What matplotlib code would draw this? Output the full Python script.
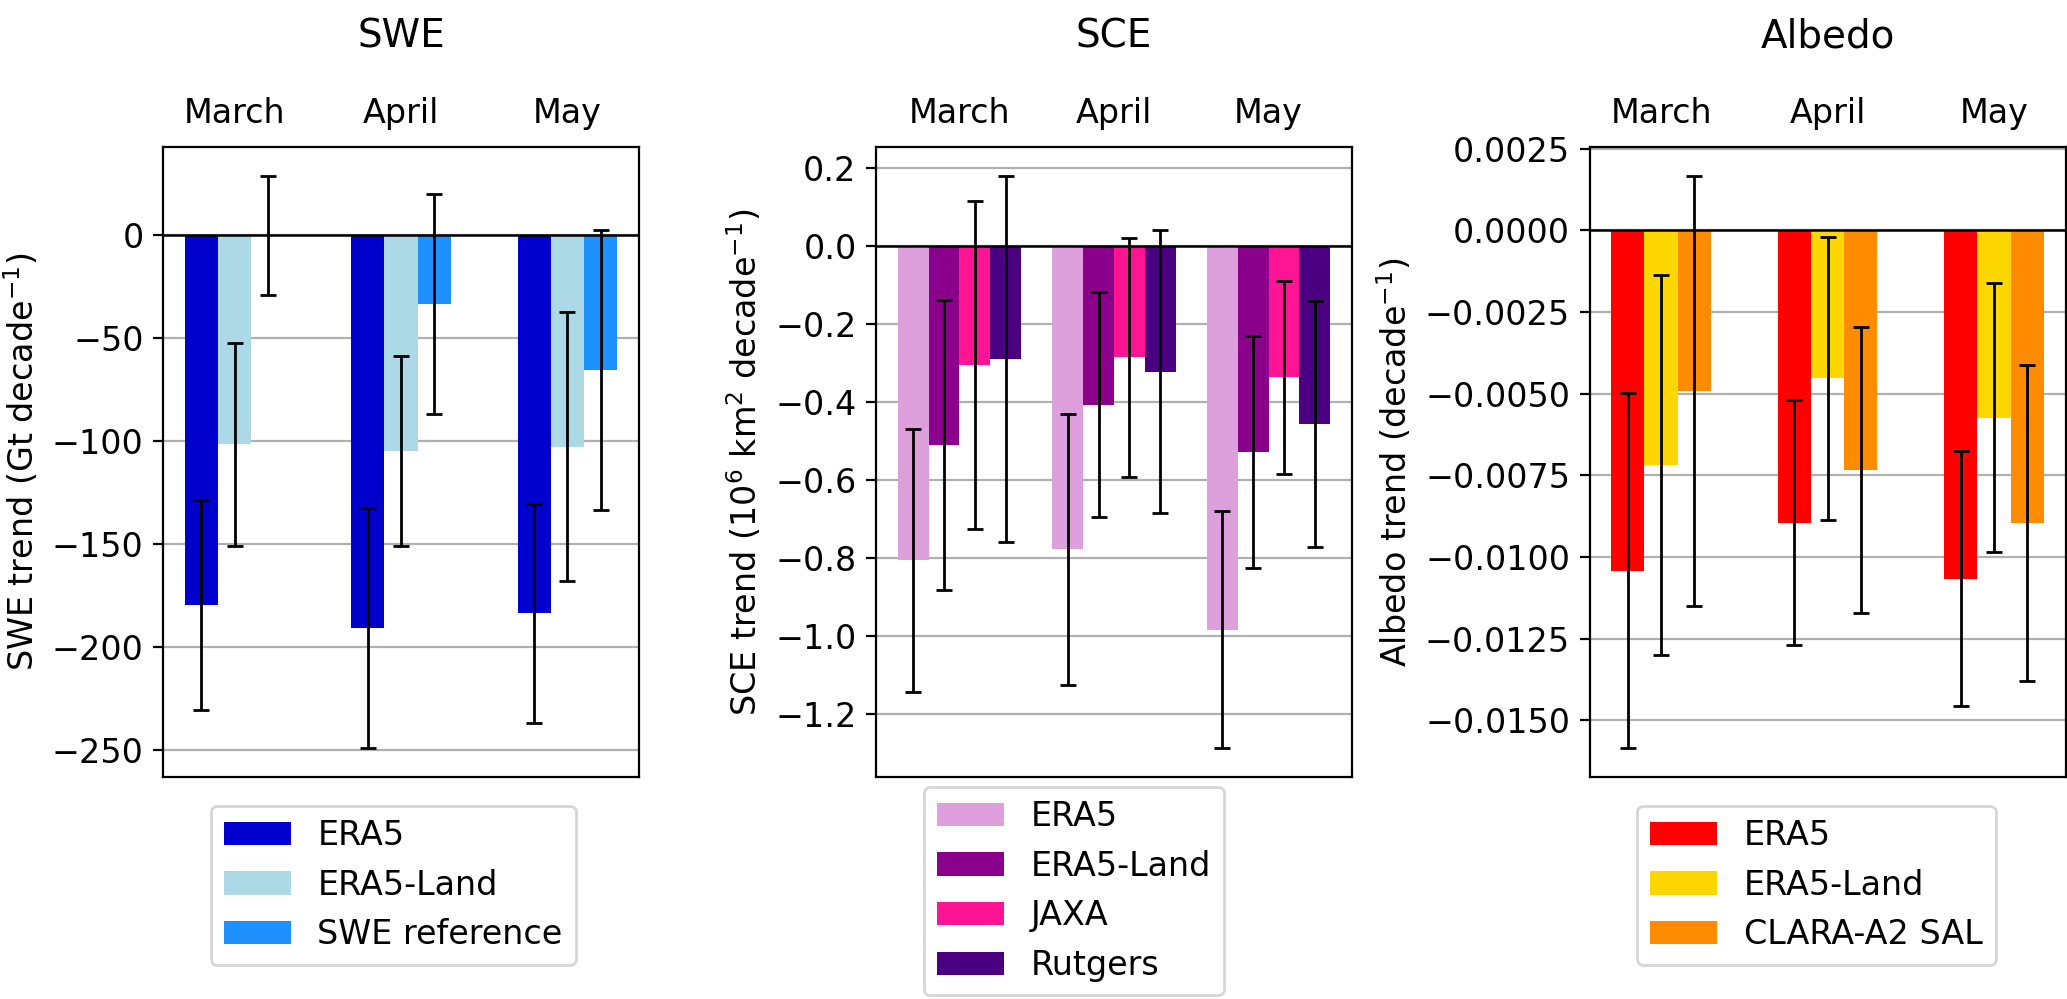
import matplotlib
matplotlib.use("Agg")
import matplotlib.pyplot as plt
import numpy as np

plt.rcParams['font.family'] = ['DejaVu Sans']
plt.rcParams['font.size'] = 12

months = ["March", "April", "May"]

# SWE (Gt decade^-1)
swe_labels = ["ERA5", "ERA5-Land", "SWE reference"]
swe_colors = ["mediumblue", "lightblue", "dodgerblue"]
swe_era5 = [-179.5, -190.8, -183.6]
swe_era5_err = [51.0, 58.3, 53.2]
swe_land = [-101.6, -104.8, -102.7]
swe_land_err = [49.5, 46.0, 65.4]
swe_ref = [0.0, -33.3, -65.4]
swe_ref_err = [29.0, 53.5, 68.0]

# SCE (10^6 km^2 decade^-1)
sce_labels = ["ERA5", "ERA5-Land", "JAXA", "Rutgers"]
sce_colors = ["plum", "darkmagenta", "deeppink", "indigo"]
sce_era5 = [-0.805, -0.777, -0.983]
sce_era5_err = [0.337, 0.347, 0.303]
sce_land = [-0.509, -0.407, -0.528]
sce_land_err = [0.371, 0.288, 0.297]
sce_jaxa = [-0.304, -0.285, -0.336]
sce_jaxa_err = [0.420, 0.306, 0.247]
sce_rutgers = [-0.289, -0.322, -0.456]
sce_rutgers_err = [0.469, 0.363, 0.316]

# Albedo (decade^-1)
alb_labels = ["ERA5", "ERA5-Land", "CLARA-A2 SAL"]
alb_colors = ["red", "gold", "darkorange"]
alb_era5 = [-0.01042, -0.00896, -0.01067]
alb_era5_err = [0.00543, 0.00375, 0.00390]
alb_land = [-0.00719, -0.00453, -0.00574]
alb_land_err = [0.00582, 0.00433, 0.00411]
alb_clara = [-0.00492, -0.00735, -0.00896]
alb_clara_err = [0.00659, 0.00438, 0.00483]

W, H = 2067, 999
fig = plt.figure(figsize=(W / 200, H / 200), dpi=200)

ax_w = 476 / W
ax_h = (776.7 - 147) / H
ax_b = 1 - 776.7 / H
lefts = [163 / W, 876 / W, 1589.5 / W]


def panel(ax, series, errs, colors, labels, title, ylabel, leg_y):
    n = len(series)
    width = 0.2
    x = np.arange(len(months))
    offsets = (np.arange(n) - (n - 1) / 2) * width
    handles = []
    for s, e, c, lab, off in zip(series, errs, colors, labels, offsets):
        b = ax.bar(x + off, s, width, color=c, label=lab, zorder=2)
        ax.errorbar(x + off, s, yerr=e, fmt='none', ecolor='black',
                    elinewidth=1.0, capsize=3, capthick=1.0, zorder=3)
        handles.append(b)
    ax.axhline(0, color='black', lw=0.9, zorder=2.5)
    ax.set_axisbelow(True)
    ax.yaxis.grid(True, color='#b0b0b0', lw=0.8)
    ax.set_xticks(x)
    ax.set_xticklabels(months)
    ax.xaxis.tick_top()
    ax.tick_params(axis='x', length=0, pad=6)
    ax.set_ylabel(ylabel)
    ax.set_title(title, fontsize=14, pad=18)
    ax.legend(handles=handles, loc='upper left', bbox_to_anchor=(0.1, leg_y),
              borderaxespad=0, fontsize=12)


ax1 = fig.add_axes([lefts[0], ax_b, ax_w, ax_h])
panel(ax1, [swe_era5, swe_land, swe_ref], [swe_era5_err, swe_land_err, swe_ref_err],
      swe_colors, swe_labels, "SWE", "SWE trend (Gt decade$^{-1}$)", -0.046)

ax2 = fig.add_axes([lefts[1], ax_b, ax_w, ax_h])
panel(ax2, [sce_era5, sce_land, sce_jaxa, sce_rutgers],
      [sce_era5_err, sce_land_err, sce_jaxa_err, sce_rutgers_err],
      sce_colors, sce_labels, "SCE", "SCE trend (10$^6$ km$^2$ decade$^{-1}$)", -0.016)

ax3 = fig.add_axes([lefts[2], ax_b, ax_w, ax_h])
panel(ax3, [alb_era5, alb_land, alb_clara], [alb_era5_err, alb_land_err, alb_clara_err],
      alb_colors, alb_labels, "Albedo", "Albedo trend (decade$^{-1}$)", -0.046)

fig.savefig("out.png", dpi=200)
